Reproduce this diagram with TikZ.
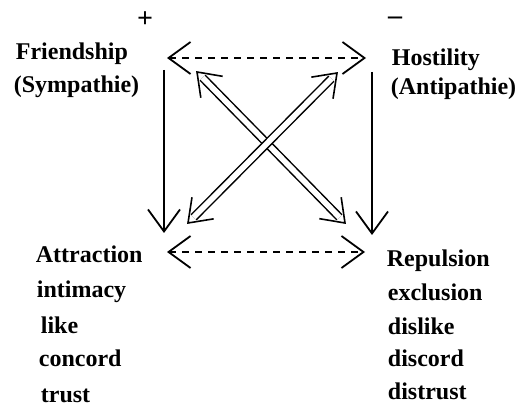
\documentclass[tikz,border=0pt]{standalone}
\usepackage{fontspec}
\setmainfont{Liberation Serif}
\usetikzlibrary{arrows.meta,calc}

\begin{document}
\begin{tikzpicture}[x=0.5pt,y=-0.5pt,line width=0.9pt,
  >={Straight Barb[length=11pt,width=16pt]},
  word/.style={anchor=base west,inner sep=0pt,font=\fontsize{12}{14}\selectfont\bfseries},
  dotted line/.style={dash pattern=on 3.5pt off 3pt},
  twin/.style={double,double distance=2.8pt,line width=0.75pt,shorten <=4pt,shorten >=4pt}]
\useasboundingbox (0,0) rectangle (518,405);
% signs
\node[inner sep=0pt,font=\fontsize{14}{14}\selectfont\bfseries] (plus) at (145,20) {+};
\node[inner sep=0pt,font=\fontsize{14}{14}\selectfont\bfseries] (minus) at (395,21) {--};
% the four corners and their words
\foreach \n/\x/\y/\t in {fr/15/60/{Friendship},sy/13/93/{(Sympathie)},ho/391/66/{Hostility},an/390/95/{(Antipathie)},
  at/35/263/{Attraction},in/36/297/{intimacy},li/40/333/{like},co/38/366/{concord},tr/40/402/{trust},
  re/386/267/{Repulsion},ex/387/300/{exclusion},di/387/334/{dislike},dc/387/366/{discord},dt/387/399/{distrust}}{\node[word] (\n) at (\x,\y) {\t};}
% arrow ends
\coordinate (FL) at (167,58); \coordinate (HR) at (366,58);
\coordinate (AL) at (167,252); \coordinate (RR) at (365,252);
\coordinate (F0) at (164,70); \coordinate (F1) at (164,233);
\coordinate (H0) at (372,72); \coordinate (H1) at (372,235);
\coordinate (D1) at (197,72); \coordinate (D2) at (345,223);
\coordinate (D3) at (337,73); \coordinate (D4) at (188,223);
\draw[dotted line,<->] (FL)--(HR);
\draw[dotted line,<->] (AL)--(RR);
\draw[->] (F0)--(F1);
\draw[->] (H0)--(H1);
\draw[twin] (D1)--(D2);
\draw[twin] (D3)--(D4);
% open heads of the double arrows
\foreach \a/\b in {D1/D2,D2/D1,D3/D4,D4/D3}
  \draw[line width=0.8pt] ($(\a)!13pt!36:(\b)$) -- (\a) -- ($(\a)!13pt!-36:(\b)$);
\end{tikzpicture}
\end{document}
